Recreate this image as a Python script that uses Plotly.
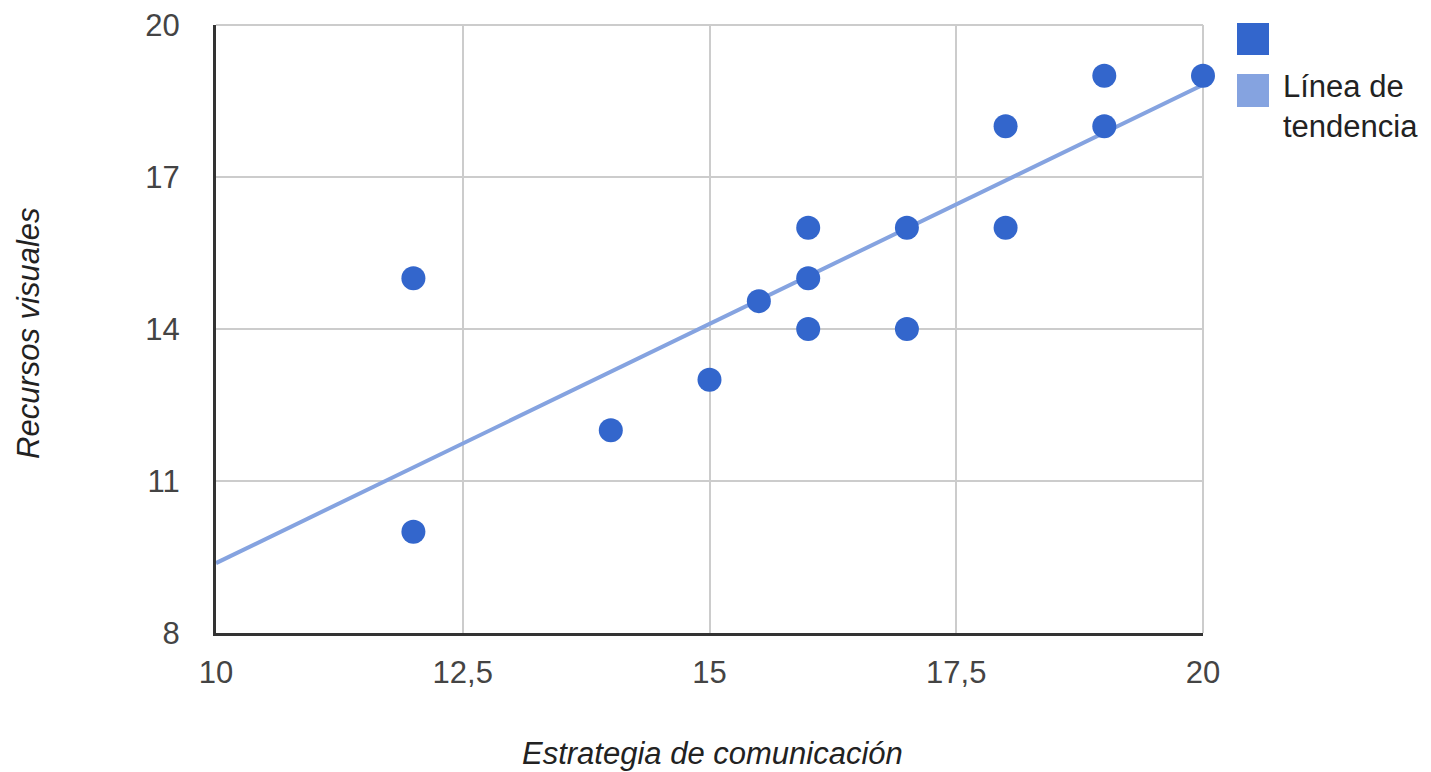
import plotly.graph_objects as go

# Data
estrategia = [12, 12, 14, 15, 15.5, 16, 16, 16, 17, 17, 18, 18, 19, 19, 20]
recursos = [15, 10, 12, 13, 14.55, 15, 16, 14, 16, 14, 18, 16, 19, 18, 19]

trend_x = [10, 20]
trend_y = [9.38, 18.82]

x_ticks = [10, 12.5, 15, 17.5, 20]
x_ticktext = ["10", "12,5", "15", "17,5", "20"]
y_ticks = [8, 11, 14, 17, 20]
y_ticktext = ["8", "11", "14", "17", "20"]

series_color = "#3366cc"
trend_color = "#85a3e0"
font_family = "Liberation Sans, Arial, sans-serif"

# plot area in page pixels (page has an 8px body margin)
PL, PR, PT, PB = 216, 1203, 25, 633
PW, PH = PR - PL, PB - PT


def px(x):
    return (x - PL) / PW


def py(y):
    return (PB - y) / PH


fig = go.Figure()
fig.add_trace(go.Scatter(
    x=trend_x, y=trend_y, mode="lines",
    line=dict(color=trend_color, width=4),
    showlegend=False, hoverinfo="skip",
))
fig.add_trace(go.Scatter(
    x=estrategia, y=recursos, mode="markers",
    marker=dict(color=series_color, size=24, line=dict(width=0)),
    showlegend=False, cliponaxis=False,
))

fig.update_layout(
    width=1423, height=764,
    margin=dict(l=PL - 8, r=1431 - PR, t=PT - 8, b=772 - PB),
    paper_bgcolor="white", plot_bgcolor="white",
    font=dict(family=font_family, size=31, color="#444444"),
    xaxis=dict(
        range=[10, 20], tickvals=x_ticks, ticktext=x_ticktext,
        showgrid=True, gridcolor="#cccccc", gridwidth=2,
        zeroline=False, showline=True, linecolor="#333333", linewidth=3,
        mirror=False, ticks="outside", ticklen=10, tickcolor="rgba(0,0,0,0)",
        tickfont=dict(size=31, color="#444444"), automargin=False,
        ticklabeloverflow="allow",
    ),
    yaxis=dict(
        range=[8, 20], tickvals=y_ticks, ticktext=y_ticktext,
        showgrid=True, gridcolor="#cccccc", gridwidth=2,
        zeroline=False, showline=True, linecolor="#333333", linewidth=3,
        ticks="outside", ticklen=27, tickcolor="rgba(0,0,0,0)",
        tickfont=dict(size=31, color="#444444"), automargin=False,
        ticklabeloverflow="allow",
    ),
    shapes=[
        dict(type="line", xref="paper", yref="paper", layer="below",
             x0=1.0, x1=1.0, y0=0, y1=1, line=dict(color="#cccccc", width=2)),
        dict(type="line", xref="paper", yref="paper", layer="below",
             x0=0, x1=1.0, y0=1.0, y1=1.0, line=dict(color="#cccccc", width=2)),
        # legend swatches
        dict(type="rect", xref="paper", yref="paper",
             x0=px(1237), x1=px(1269), y0=py(55), y1=py(23),
             fillcolor=series_color, line=dict(width=0)),
        dict(type="rect", xref="paper", yref="paper",
             x0=px(1237), x1=px(1269), y0=py(107), y1=py(74),
             fillcolor=trend_color, line=dict(width=0)),
    ],
    annotations=[
        dict(text="Línea de<br>tendencia", xref="paper", yref="paper",
             x=px(1281), y=py(67),
             xanchor="left", yanchor="top", align="left", showarrow=False,
             font=dict(size=31, color="#222222")),
        dict(text="<i>Estrategia de comunicación</i>", xref="paper", yref="paper",
             x=px(712), y=py(753),
             xanchor="center", yanchor="middle", showarrow=False,
             font=dict(size=31, color="#222222")),
        dict(text="<i>Recursos visuales</i>", xref="paper", yref="paper",
             x=px(28), y=py(333), textangle=-90,
             xanchor="center", yanchor="middle", showarrow=False,
             font=dict(size=31, color="#222222")),
    ],
)

fig.write_html("out.html")
